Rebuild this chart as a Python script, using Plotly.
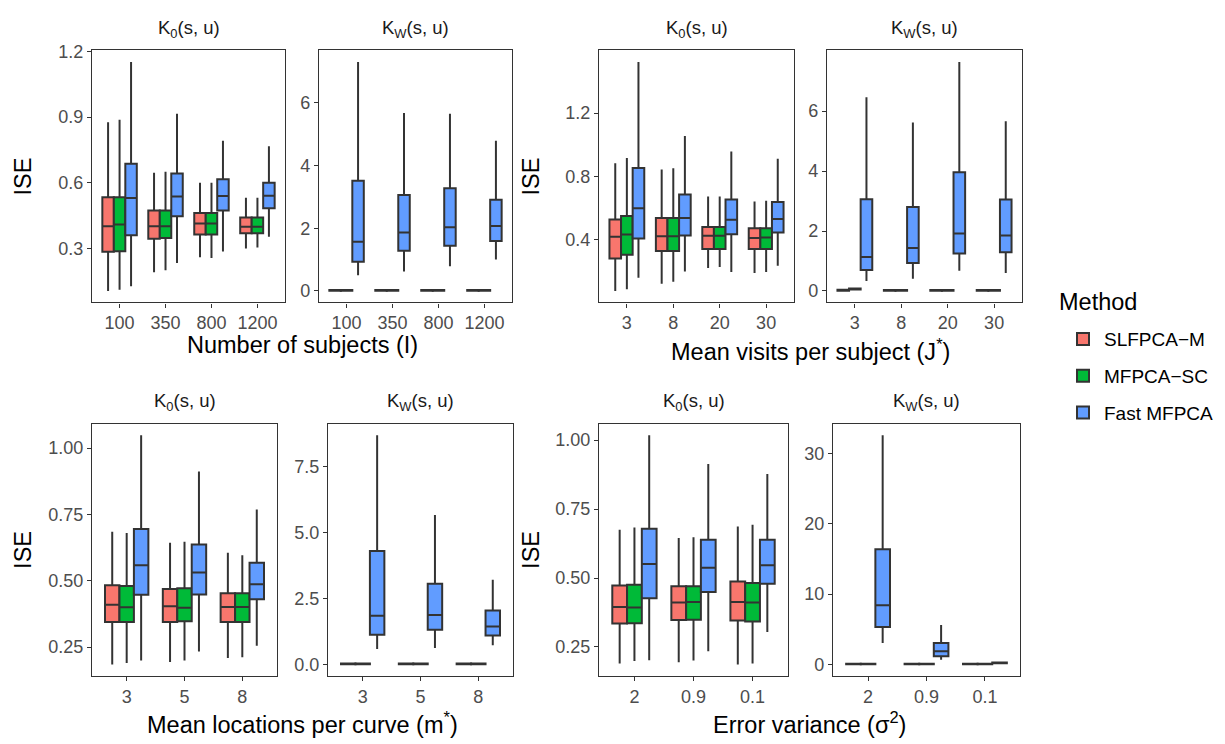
import plotly.graph_objects as go

W, H = 1225, 744

# ---------------- data ----------------
methods = ["SLFPCA−M", "MFPCA−SC", "Fast MFPCA"]

subjects = ["100", "350", "800", "1200"]
visits = ["3", "8", "20", "30"]
locations = ["3", "5", "8"]
err_var = ["2", "0.9", "0.1"]

# each tuple: (lower whisker, q1, median, q3, upper whisker)
ZERO = (0.0, 0.005, 0.01, 0.03, 0.05)

k0_subj_slf = [(0.106, 0.285, 0.402, 0.534, 0.877), (0.192, 0.345, 0.402, 0.474, 0.646),
               (0.260, 0.364, 0.414, 0.462, 0.600), (0.300, 0.369, 0.399, 0.442, 0.532)]
k0_subj_mf = [(0.112, 0.287, 0.410, 0.534, 0.888), (0.200, 0.348, 0.402, 0.474, 0.651),
              (0.257, 0.364, 0.414, 0.462, 0.600), (0.305, 0.369, 0.399, 0.442, 0.532)]
k0_subj_fast = [(0.127, 0.360, 0.530, 0.687, 1.152), (0.234, 0.447, 0.537, 0.642, 0.915),
                (0.286, 0.474, 0.540, 0.616, 0.792), (0.354, 0.484, 0.541, 0.600, 0.767)]

kw_subj_slf = [ZERO, ZERO, ZERO, ZERO]
kw_subj_mf = [ZERO, ZERO, ZERO, ZERO]
kw_subj_fast = [(0.50, 0.93, 1.57, 3.51, 7.30), (0.62, 1.28, 1.86, 3.06, 5.67),
                (0.79, 1.44, 2.03, 3.27, 5.65), (1.00, 1.59, 2.07, 2.91, 4.79)]

k0_vis_slf = [(0.077, 0.282, 0.419, 0.528, 0.883), (0.122, 0.330, 0.423, 0.537, 0.844),
              (0.222, 0.342, 0.425, 0.481, 0.674), (0.191, 0.342, 0.412, 0.473, 0.642)]
k0_vis_mf = [(0.087, 0.305, 0.433, 0.551, 0.916), (0.135, 0.330, 0.423, 0.537, 0.852),
             (0.228, 0.342, 0.425, 0.481, 0.674), (0.197, 0.342, 0.415, 0.473, 0.647)]
k0_vis_fast = [(0.160, 0.408, 0.599, 0.854, 1.523), (0.200, 0.427, 0.537, 0.686, 1.055),
               (0.197, 0.435, 0.526, 0.655, 0.958), (0.236, 0.446, 0.531, 0.638, 0.912)]

kw_vis_slf = [(0.0, 0.01, 0.02, 0.04, 0.06), ZERO, ZERO, ZERO]
kw_vis_mf = [(0.03, 0.05, 0.06, 0.08, 0.10), ZERO, ZERO, ZERO]
kw_vis_fast = [(0.33, 0.70, 1.13, 3.06, 6.46), (0.41, 0.93, 1.43, 2.80, 5.62),
               (0.67, 1.25, 1.92, 3.96, 7.64), (0.60, 1.29, 1.85, 3.05, 5.66)]

k0_loc_slf = [(0.185, 0.345, 0.410, 0.483, 0.685), (0.194, 0.345, 0.404, 0.469, 0.643),
              (0.209, 0.345, 0.401, 0.453, 0.606)]
k0_loc_mf = [(0.190, 0.345, 0.400, 0.480, 0.680), (0.200, 0.348, 0.398, 0.472, 0.647),
             (0.212, 0.345, 0.401, 0.453, 0.596)]
k0_loc_fast = [(0.200, 0.447, 0.559, 0.695, 1.048), (0.234, 0.448, 0.531, 0.637, 0.912),
               (0.255, 0.430, 0.487, 0.568, 0.769)]

kw_loc_slf = [ZERO, ZERO, ZERO]
kw_loc_mf = [ZERO, ZERO, ZERO]
kw_loc_fast = [(0.58, 1.12, 1.84, 4.29, 8.67), (0.62, 1.31, 1.87, 3.05, 5.66),
               (0.72, 1.09, 1.43, 2.04, 3.20)]

k0_err_slf = [(0.190, 0.335, 0.395, 0.473, 0.675), (0.195, 0.348, 0.411, 0.470, 0.645),
              (0.187, 0.346, 0.413, 0.487, 0.687)]
k0_err_mf = [(0.199, 0.336, 0.393, 0.476, 0.683), (0.201, 0.349, 0.413, 0.470, 0.648),
             (0.190, 0.342, 0.411, 0.482, 0.693)]
k0_err_fast = [(0.202, 0.427, 0.551, 0.679, 1.017), (0.235, 0.449, 0.537, 0.639, 0.913),
               (0.304, 0.479, 0.546, 0.639, 0.877)]

kw_err_slf = [(0.0, 0.02, 0.04, 0.08, 0.12)] * 3
kw_err_mf = [(0.0, 0.02, 0.04, 0.08, 0.12)] * 3
kw_err_fast = [(3.04, 5.33, 8.40, 16.40, 32.60), (0.65, 1.17, 1.87, 3.04, 5.60),
               (0.10, 0.17, 0.22, 0.28, 0.35)]

ticks_k0_subj = [0.3, 0.6, 0.9, 1.2]
ticks_k0_subj_text = ["0.3", "0.6", "0.9", "1.2"]
ticks_kw_a = [0, 2, 4, 6]
ticks_kw_a_text = ["0", "2", "4", "6"]
ticks_k0_vis = [0.4, 0.8, 1.2]
ticks_k0_vis_text = ["0.4", "0.8", "1.2"]
ticks_k0_b = [0.25, 0.50, 0.75, 1.00]
ticks_k0_b_text = ["0.25", "0.50", "0.75", "1.00"]
ticks_kw_loc = [0, 2.5, 5.0, 7.5]
ticks_kw_loc_text = ["0.0", "2.5", "5.0", "7.5"]
ticks_kw_err = [0, 10, 20, 30]
ticks_kw_err_text = ["0", "10", "20", "30"]

# ---------------- layout / style ----------------
FILLS = ["#F8766D", "#00BA38", "#619CFF"]
FONT = "Liberation Sans, Arial, Helvetica, sans-serif"
K0 = "K<sub>0</sub>(s, u)"
KW = "K<sub>W</sub>(s, u)"

panels = [
    dict(cats=subjects, stats=[k0_subj_slf, k0_subj_mf, k0_subj_fast], box=(92, 285, 42, 297),
         tv=ticks_k0_subj, tt=ticks_k0_subj_text, strip=K0),
    dict(cats=subjects, stats=[kw_subj_slf, kw_subj_mf, kw_subj_fast], box=(319, 512, 42, 297),
         tv=ticks_kw_a, tt=ticks_kw_a_text, strip=KW),
    dict(cats=visits, stats=[k0_vis_slf, k0_vis_mf, k0_vis_fast], box=(599, 794, 42, 297),
         tv=ticks_k0_vis, tt=ticks_k0_vis_text, strip=K0),
    dict(cats=visits, stats=[kw_vis_slf, kw_vis_mf, kw_vis_fast], box=(827, 1022, 42, 297),
         tv=ticks_kw_a, tt=ticks_kw_a_text, strip=KW),
    dict(cats=locations, stats=[k0_loc_slf, k0_loc_mf, k0_loc_fast], box=(92, 277, 420, 675),
         tv=ticks_k0_b, tt=ticks_k0_b_text, strip=K0),
    dict(cats=locations, stats=[kw_loc_slf, kw_loc_mf, kw_loc_fast], box=(328, 513, 420, 675),
         tv=ticks_kw_loc, tt=ticks_kw_loc_text, strip=KW),
    dict(cats=err_var, stats=[k0_err_slf, k0_err_mf, k0_err_fast], box=(599, 788, 420, 675),
         tv=ticks_k0_b, tt=ticks_k0_b_text, strip=K0),
    dict(cats=err_var, stats=[kw_err_slf, kw_err_mf, kw_err_fast], box=(833, 1020, 420, 675),
         tv=ticks_kw_err, tt=ticks_kw_err_text, strip=KW),
]

fig = go.Figure()
layout = dict(
    width=W, height=H, autosize=False,
    margin=dict(l=0, r=0, t=0, b=0),
    paper_bgcolor="white", plot_bgcolor="white",
    font=dict(family=FONT, color="black"),
    boxmode="group", boxgap=0.25, boxgroupgap=0.0,
    showlegend=True,
    legend=dict(
        font=dict(size=19, color="black"),
        x=1062 / W, xanchor="left", y=1 - 315 / H, yanchor="top",
        tracegroupgap=9, bgcolor="rgba(0,0,0,0)", itemwidth=32,
    ),
)
annotations = []

for i, p in enumerate(panels):
    n = i + 1
    xa, ya = ("x" if n == 1 else f"x{n}"), ("y" if n == 1 else f"y{n}")
    x0, x1, y0, y1 = p["box"]
    allv = [v for s in p["stats"] for t in s for v in t]
    lo, hi = min(allv), max(allv)
    pad = 0.05 * (hi - lo)
    for m in range(3):
        s = p["stats"][m]
        fig.add_trace(go.Box(
            x=p["cats"],
            lowerfence=[t[0] for t in s], q1=[t[1] for t in s], median=[t[2] for t in s],
            q3=[t[3] for t in s], upperfence=[t[4] for t in s],
            name=methods[m], legendgroup=methods[m], showlegend=(i == 0),
            offsetgroup=methods[m], alignmentgroup=f"panel{n}",
            fillcolor=FILLS[m], line=dict(color="#333333", width=2),
            whiskerwidth=0, boxpoints=False,
            xaxis=xa, yaxis=ya,
        ))
    axis_common = dict(
        showline=True, mirror=True, linecolor="#333333", linewidth=1.2,
        ticks="outside", ticklen=4, tickwidth=1.1, tickcolor="#333333",
        showgrid=False, zeroline=False,
        tickfont=dict(size=18, color="#4D4D4D", family=FONT),
    )
    layout[f"xaxis{'' if n == 1 else n}"] = dict(
        axis_common, domain=[x0 / W, x1 / W], anchor=ya, type="category",
        categoryorder="array", categoryarray=p["cats"],
        range=[-0.6, len(p["cats"]) - 0.4],
    )
    layout[f"yaxis{'' if n == 1 else n}"] = dict(
        axis_common, domain=[1 - y1 / H, 1 - y0 / H], anchor=xa,
        range=[lo - pad, hi + pad], tickmode="array", tickvals=p["tv"], ticktext=p["tt"],
    )
    # strip title
    annotations.append(dict(
        text=p["strip"], xref="paper", yref="paper", x=(x0 + x1) / 2 / W,
        y=1 - (y0 - 22) / H, xanchor="center", yanchor="middle", showarrow=False,
        font=dict(size=18.5, color="#1A1A1A", family=FONT),
    ))

# shared axis titles
xtitles = [
    ("Number of subjects (I)", (92 + 512) / 2, 340),
    ("Mean visits per subject (J<sup>*</sup>)", (599 + 1022) / 2, 345),
    ("Mean locations per curve (m<sup>*</sup>)", (92 + 513) / 2, 723),
    ("Error variance (σ<sup>2</sup>)", (599 + 1020) / 2, 723),
]
for t, x, y in xtitles:
    annotations.append(dict(
        text=t, xref="paper", yref="paper", x=x / W, y=1 - y / H,
        xanchor="center", yanchor="middle", showarrow=False,
        font=dict(size=23.5, color="black", family=FONT),
    ))
for x, y in [(23, 169.5), (531, 169.5), (23, 547.5), (531, 547.5)]:
    annotations.append(dict(
        text="ISE", xref="paper", yref="paper", x=x / W, y=1 - y / H, textangle=-90,
        xanchor="center", yanchor="middle", showarrow=False,
        font=dict(size=23.5, color="black", family=FONT),
    ))
# legend title
annotations.append(dict(
    text="Method", xref="paper", yref="paper", x=1057 / W, y=1 - 297 / H,
    xanchor="left", yanchor="middle", showarrow=False,
    font=dict(size=23.5, color="black", family=FONT),
))

layout["annotations"] = annotations
fig.update_layout(**layout)
fig.write_html("out.html")
